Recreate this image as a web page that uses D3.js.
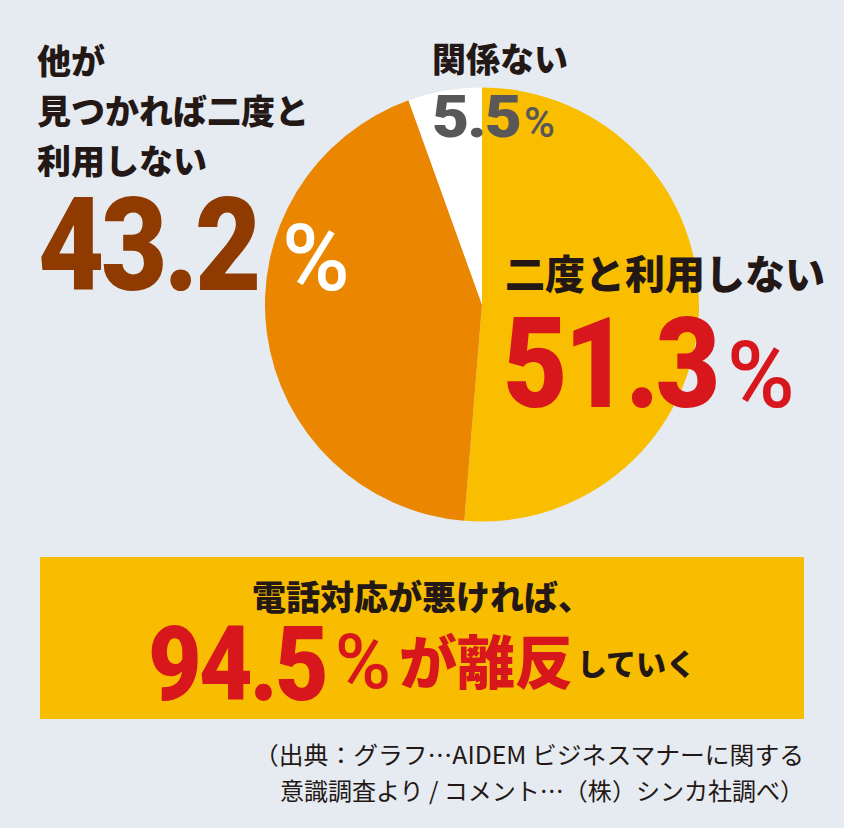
<!DOCTYPE html>
<meta charset="utf-8">
<script src="https://d3js.org/d3.v7.min.js"></script>
<style>
  body { margin: 0; background: #e6ebf1; }
  text { font-family: "Noto Sans CJK JP", "Noto Sans", sans-serif; }
  .num { font-family: Roboto, "Liberation Sans", sans-serif; font-weight: 900; letter-spacing: -0.03em; }
  .pct { font-family: Roboto, "Liberation Sans", sans-serif; font-weight: 500; }
</style>
<div id="chart"></div>
<script>

// data
const categories = ["二度と利用しない", "他が見つかれば二度と利用しない", "関係ない"];
const values = [51.3, 43.2, 5.5];
const sliceColors = ["#f9be00", "#ea8600", "#ffffff"];

// label text
const labelLines = [["二度と利用しない"], ["他が", "見つかれば二度と", "利用しない"], ["関係ない"]];
const headline = "電話対応が悪ければ、";
const total = 94.5;
const sourceLines = ["（出典：グラフ…AIDEM ビジネスマナーに関する", "意識調査より / コメント…（株）シンカ社調べ）"];

const W = 844, H = 828;
const cx = 482, cy = 304.5, r = 217;

const svg = d3.select("#chart").append("svg")
  .attr("width", W).attr("height", H);

svg.append("rect").attr("width", W).attr("height", H).attr("fill", "#e6ebf1");

// pie, clockwise from 12 o'clock
const pie = d3.pie().sort(null).value(d => d)(values);
const arc = d3.arc().innerRadius(0).outerRadius(r);

svg.append("g")
  .attr("transform", `translate(${cx},${cy})`)
  .selectAll("path")
  .data(pie)
  .join("path")
    .attr("d", arc)
    .attr("fill", (d, i) => sliceColors[i]);

// label layout: category lines, then big number + %
const labels = [
  {x: 505, y0: 289, lh: 0, fs: 40, numX: 503, numY: 407, numFs: 127, numW: 214,
   pctX: 727, pctY: 407, pctFs: 92, numColor: "#d7171c", pctColor: "#d7171c"},
  {x: 37, y0: 74, lh: 50, fs: 34, numX: 38, numY: 290, numFs: 129, numW: 220,
   pctX: 282, pctY: 290, pctFs: 92, numColor: "#8e3a00", pctColor: "#ffffff"},
  {x: 432, y0: 72, lh: 0, fs: 34, numX: 432, numY: 137, numFs: 60, numW: 88,
   pctX: 524, pctY: 137, pctFs: 42, numColor: "#595757", pctColor: "#595757"}
];

labels.forEach((L, i) => {
  const g = svg.append("g");
  g.selectAll("text.cat")
    .data(labelLines[i])
    .join("text")
      .attr("class", "cat")
      .attr("x", L.x)
      .attr("y", (d, j) => L.y0 + j * L.lh)
      .attr("font-size", L.fs)
      .style("font-weight", 900)
      .attr("fill", "#231815")
      .text(d => d);
  g.append("text")
    .attr("class", "num")
    .attr("x", L.numX).attr("y", L.numY)
    .attr("font-size", L.numFs)
    .attr("fill", L.numColor)
    .attr("textLength", L.numW)
    .attr("lengthAdjust", "spacingAndGlyphs")
    .text(d3.format(".1f")(values[i]));
  g.append("text")
    .attr("class", "pct")
    .attr("x", L.pctX).attr("y", L.pctY)
    .attr("font-size", L.pctFs)
    .attr("fill", L.pctColor)
    .text("%");
});

// summary box
svg.append("rect")
  .attr("x", 40).attr("y", 557)
  .attr("width", 764).attr("height", 162)
  .attr("fill", "#f8bd00");

svg.append("text")
  .attr("x", 252).attr("y", 610)
  .attr("font-size", 34)
  .style("font-weight", 900)
  .attr("fill", "#231815")
  .text(headline);

svg.append("text")
  .attr("class", "num")
  .attr("x", 148).attr("y", 700)
  .attr("font-size", 104)
  .attr("fill", "#d7171c")
  .attr("textLength", 178)
  .attr("lengthAdjust", "spacingAndGlyphs")
  .text(d3.format(".1f")(total));

svg.append("text")
  .attr("class", "pct")
  .attr("x", 335).attr("y", 688)
  .attr("font-size", 76)
  .attr("fill", "#d7171c")
  .text("%");

svg.append("text")
  .attr("x", 399).attr("y", 684)
  .attr("font-size", 58)
  .style("font-weight", 900)
  .attr("fill", "#d7171c")
  .text("が離反");

svg.append("text")
  .attr("x", 577).attr("y", 675)
  .attr("font-size", 30)
  .style("font-weight", 900)
  .attr("fill", "#231815")
  .text("していく");

// source note
svg.selectAll("text.src")
  .data(sourceLines)
  .join("text")
    .attr("class", "src")
    .attr("x", 804)
    .attr("y", (d, i) => 764 + i * 36)
    .attr("text-anchor", "end")
    .attr("font-size", 24)
    .attr("font-weight", 400)
    .attr("fill", "#231815")
    .attr("textLength", (d, i) => i === 0 ? 550 : 524)
    .attr("lengthAdjust", "spacingAndGlyphs")
    .text(d => d);

</script>
